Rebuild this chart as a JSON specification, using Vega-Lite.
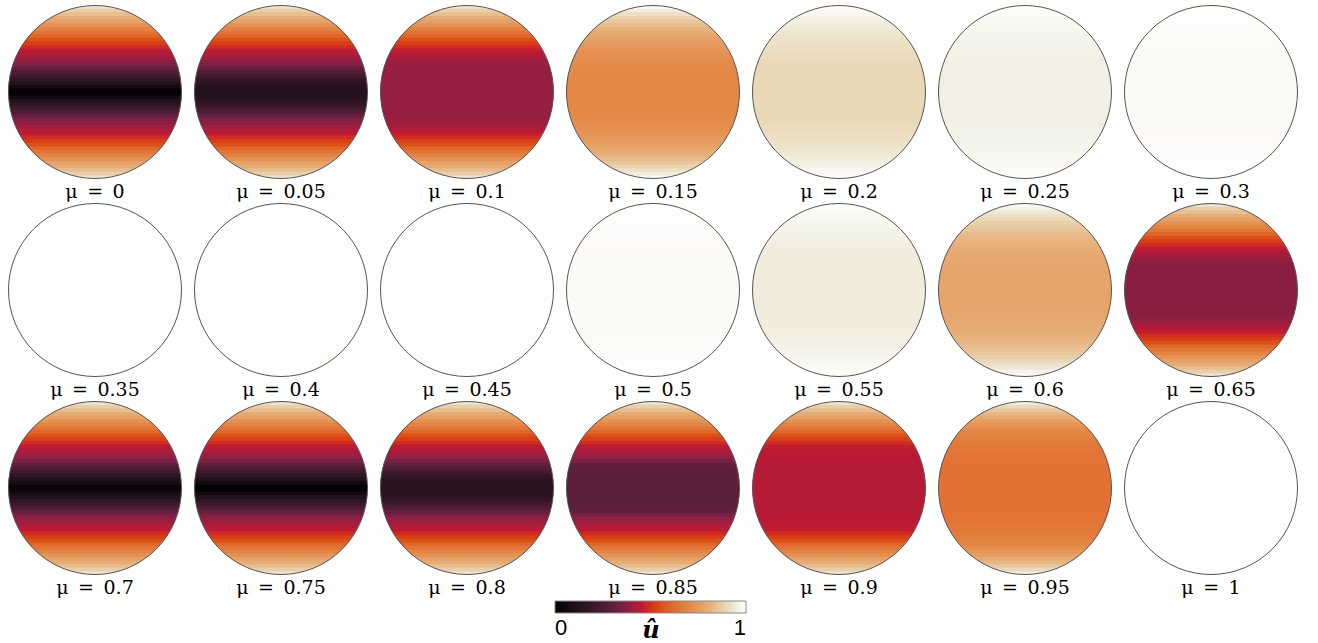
{
  "$schema": "https://vega.github.io/schema/vega-lite/v6.json",
  "padding": {"left": 6, "top": 3, "right": 5, "bottom": 0},
  "background": "white",
  "config": {"view": {"stroke": null}},
  "bounds": "flush",
  "data": {"values": [
{"m":0,"k":1,"u":0.02},{"m":0,"k":2,"u":0.07},{"m":0,"k":3,"u":0.12},{"m":0,"k":4,"u":0.17},{"m":0,"k":5,"u":0.22},{"m":0,"k":6,"u":0.26},{"m":0,"k":7,"u":0.31},{"m":0,"k":8,"u":0.35},{"m":0,"k":9,"u":0.38},{"m":0,"k":10,"u":0.41},{"m":0,"k":11,"u":0.43},{"m":0,"k":12,"u":0.45},{"m":0,"k":13,"u":0.49},{"m":0,"k":14,"u":0.525},{"m":0,"k":15,"u":0.56},{"m":0,"k":16,"u":0.61},{"m":0,"k":17,"u":0.65},{"m":0,"k":18,"u":0.69},{"m":0,"k":19,"u":0.73},{"m":0,"k":20,"u":0.77},{"m":0,"k":21,"u":0.8},{"m":0,"k":22,"u":0.84},{"m":0,"k":23,"u":0.88},{"m":0,"k":24,"u":0.93},
{"m":0.05,"k":1,"u":0.13},{"m":0.05,"k":2,"u":0.14},{"m":0.05,"k":3,"u":0.16},{"m":0.05,"k":4,"u":0.19},{"m":0.05,"k":5,"u":0.23},{"m":0.05,"k":6,"u":0.265},{"m":0.05,"k":7,"u":0.31},{"m":0.05,"k":8,"u":0.35},{"m":0.05,"k":9,"u":0.38},{"m":0.05,"k":10,"u":0.41},{"m":0.05,"k":11,"u":0.43},{"m":0.05,"k":12,"u":0.45},{"m":0.05,"k":13,"u":0.49},{"m":0.05,"k":14,"u":0.525},{"m":0.05,"k":15,"u":0.56},{"m":0.05,"k":16,"u":0.61},{"m":0.05,"k":17,"u":0.65},{"m":0.05,"k":18,"u":0.69},{"m":0.05,"k":19,"u":0.73},{"m":0.05,"k":20,"u":0.77},{"m":0.05,"k":21,"u":0.8},{"m":0.05,"k":22,"u":0.84},{"m":0.05,"k":23,"u":0.88},{"m":0.05,"k":24,"u":0.93},
{"m":0.1,"k":1,"u":0.39},{"m":0.1,"k":2,"u":0.39},{"m":0.1,"k":3,"u":0.39},{"m":0.1,"k":4,"u":0.39},{"m":0.1,"k":5,"u":0.39},{"m":0.1,"k":6,"u":0.39},{"m":0.1,"k":7,"u":0.39},{"m":0.1,"k":8,"u":0.395},{"m":0.1,"k":9,"u":0.4},{"m":0.1,"k":10,"u":0.42},{"m":0.1,"k":11,"u":0.44},{"m":0.1,"k":12,"u":0.46},{"m":0.1,"k":13,"u":0.49},{"m":0.1,"k":14,"u":0.525},{"m":0.1,"k":15,"u":0.56},{"m":0.1,"k":16,"u":0.61},{"m":0.1,"k":17,"u":0.65},{"m":0.1,"k":18,"u":0.69},{"m":0.1,"k":19,"u":0.73},{"m":0.1,"k":20,"u":0.77},{"m":0.1,"k":21,"u":0.8},{"m":0.1,"k":22,"u":0.84},{"m":0.1,"k":23,"u":0.88},{"m":0.1,"k":24,"u":0.93},
{"m":0.15,"k":1,"u":0.7},{"m":0.15,"k":2,"u":0.7},{"m":0.15,"k":3,"u":0.7},{"m":0.15,"k":4,"u":0.7},{"m":0.15,"k":5,"u":0.7},{"m":0.15,"k":6,"u":0.7},{"m":0.15,"k":7,"u":0.706},{"m":0.15,"k":8,"u":0.709},{"m":0.15,"k":9,"u":0.713},{"m":0.15,"k":10,"u":0.719},{"m":0.15,"k":11,"u":0.725},{"m":0.15,"k":12,"u":0.733},{"m":0.15,"k":13,"u":0.742},{"m":0.15,"k":14,"u":0.753},{"m":0.15,"k":15,"u":0.766},{"m":0.15,"k":16,"u":0.781},{"m":0.15,"k":17,"u":0.798},{"m":0.15,"k":18,"u":0.816},{"m":0.15,"k":19,"u":0.837},{"m":0.15,"k":20,"u":0.861},{"m":0.15,"k":21,"u":0.887},{"m":0.15,"k":22,"u":0.916},{"m":0.15,"k":23,"u":0.948},{"m":0.15,"k":24,"u":0.98},
{"m":0.2,"k":1,"u":0.9},{"m":0.2,"k":2,"u":0.9},{"m":0.2,"k":3,"u":0.9},{"m":0.2,"k":4,"u":0.9},{"m":0.2,"k":5,"u":0.9},{"m":0.2,"k":6,"u":0.9},{"m":0.2,"k":7,"u":0.9},{"m":0.2,"k":8,"u":0.9},{"m":0.2,"k":9,"u":0.904},{"m":0.2,"k":10,"u":0.906},{"m":0.2,"k":11,"u":0.908},{"m":0.2,"k":12,"u":0.911},{"m":0.2,"k":13,"u":0.914},{"m":0.2,"k":14,"u":0.918},{"m":0.2,"k":15,"u":0.922},{"m":0.2,"k":16,"u":0.927},{"m":0.2,"k":17,"u":0.933},{"m":0.2,"k":18,"u":0.939},{"m":0.2,"k":19,"u":0.946},{"m":0.2,"k":20,"u":0.954},{"m":0.2,"k":21,"u":0.962},{"m":0.2,"k":22,"u":0.972},{"m":0.2,"k":23,"u":0.983},{"m":0.2,"k":24,"u":0.994},
{"m":0.25,"k":1,"u":0.955},{"m":0.25,"k":2,"u":0.955},{"m":0.25,"k":3,"u":0.955},{"m":0.25,"k":4,"u":0.955},{"m":0.25,"k":5,"u":0.955},{"m":0.25,"k":6,"u":0.955},{"m":0.25,"k":7,"u":0.955},{"m":0.25,"k":8,"u":0.955},{"m":0.25,"k":9,"u":0.955},{"m":0.25,"k":10,"u":0.955},{"m":0.25,"k":11,"u":0.959},{"m":0.25,"k":12,"u":0.96},{"m":0.25,"k":13,"u":0.961},{"m":0.25,"k":14,"u":0.963},{"m":0.25,"k":15,"u":0.965},{"m":0.25,"k":16,"u":0.967},{"m":0.25,"k":17,"u":0.97},{"m":0.25,"k":18,"u":0.972},{"m":0.25,"k":19,"u":0.976},{"m":0.25,"k":20,"u":0.979},{"m":0.25,"k":21,"u":0.983},{"m":0.25,"k":22,"u":0.987},{"m":0.25,"k":23,"u":0.992},{"m":0.25,"k":24,"u":0.997},
{"m":0.3,"k":1,"u":0.985},{"m":0.3,"k":2,"u":0.985},{"m":0.3,"k":3,"u":0.985},{"m":0.3,"k":4,"u":0.985},{"m":0.3,"k":5,"u":0.985},{"m":0.3,"k":6,"u":0.985},{"m":0.3,"k":7,"u":0.985},{"m":0.3,"k":8,"u":0.985},{"m":0.3,"k":9,"u":0.985},{"m":0.3,"k":10,"u":0.985},{"m":0.3,"k":11,"u":0.985},{"m":0.3,"k":12,"u":0.985},{"m":0.3,"k":13,"u":0.987},{"m":0.3,"k":14,"u":0.988},{"m":0.3,"k":15,"u":0.988},{"m":0.3,"k":16,"u":0.989},{"m":0.3,"k":17,"u":0.99},{"m":0.3,"k":18,"u":0.991},{"m":0.3,"k":19,"u":0.992},{"m":0.3,"k":20,"u":0.993},{"m":0.3,"k":21,"u":0.994},{"m":0.3,"k":22,"u":0.996},{"m":0.3,"k":23,"u":0.997},{"m":0.3,"k":24,"u":0.999},
{"m":0.35,"k":1,"u":0.993},{"m":0.35,"k":2,"u":0.993},{"m":0.35,"k":3,"u":0.993},{"m":0.35,"k":4,"u":0.993},{"m":0.35,"k":5,"u":0.993},{"m":0.35,"k":6,"u":0.993},{"m":0.35,"k":7,"u":0.993},{"m":0.35,"k":8,"u":0.993},{"m":0.35,"k":9,"u":0.993},{"m":0.35,"k":10,"u":0.993},{"m":0.35,"k":11,"u":0.993},{"m":0.35,"k":12,"u":0.993},{"m":0.35,"k":13,"u":0.993},{"m":0.35,"k":14,"u":0.993},{"m":0.35,"k":15,"u":0.993},{"m":0.35,"k":16,"u":0.993},{"m":0.35,"k":17,"u":0.994},{"m":0.35,"k":18,"u":0.995},{"m":0.35,"k":19,"u":0.995},{"m":0.35,"k":20,"u":0.996},{"m":0.35,"k":21,"u":0.997},{"m":0.35,"k":22,"u":0.998},{"m":0.35,"k":23,"u":0.999},{"m":0.35,"k":24,"u":1},
{"m":0.4,"k":1,"u":0.993},{"m":0.4,"k":2,"u":0.993},{"m":0.4,"k":3,"u":0.993},{"m":0.4,"k":4,"u":0.993},{"m":0.4,"k":5,"u":0.993},{"m":0.4,"k":6,"u":0.993},{"m":0.4,"k":7,"u":0.993},{"m":0.4,"k":8,"u":0.993},{"m":0.4,"k":9,"u":0.993},{"m":0.4,"k":10,"u":0.993},{"m":0.4,"k":11,"u":0.993},{"m":0.4,"k":12,"u":0.993},{"m":0.4,"k":13,"u":0.993},{"m":0.4,"k":14,"u":0.993},{"m":0.4,"k":15,"u":0.993},{"m":0.4,"k":16,"u":0.993},{"m":0.4,"k":17,"u":0.994},{"m":0.4,"k":18,"u":0.995},{"m":0.4,"k":19,"u":0.995},{"m":0.4,"k":20,"u":0.996},{"m":0.4,"k":21,"u":0.997},{"m":0.4,"k":22,"u":0.998},{"m":0.4,"k":23,"u":0.999},{"m":0.4,"k":24,"u":1},
{"m":0.45,"k":1,"u":0.993},{"m":0.45,"k":2,"u":0.993},{"m":0.45,"k":3,"u":0.993},{"m":0.45,"k":4,"u":0.993},{"m":0.45,"k":5,"u":0.993},{"m":0.45,"k":6,"u":0.993},{"m":0.45,"k":7,"u":0.993},{"m":0.45,"k":8,"u":0.993},{"m":0.45,"k":9,"u":0.993},{"m":0.45,"k":10,"u":0.993},{"m":0.45,"k":11,"u":0.993},{"m":0.45,"k":12,"u":0.993},{"m":0.45,"k":13,"u":0.993},{"m":0.45,"k":14,"u":0.993},{"m":0.45,"k":15,"u":0.993},{"m":0.45,"k":16,"u":0.993},{"m":0.45,"k":17,"u":0.994},{"m":0.45,"k":18,"u":0.995},{"m":0.45,"k":19,"u":0.995},{"m":0.45,"k":20,"u":0.996},{"m":0.45,"k":21,"u":0.997},{"m":0.45,"k":22,"u":0.998},{"m":0.45,"k":23,"u":0.999},{"m":0.45,"k":24,"u":1},
{"m":0.5,"k":1,"u":0.986},{"m":0.5,"k":2,"u":0.986},{"m":0.5,"k":3,"u":0.986},{"m":0.5,"k":4,"u":0.986},{"m":0.5,"k":5,"u":0.986},{"m":0.5,"k":6,"u":0.986},{"m":0.5,"k":7,"u":0.986},{"m":0.5,"k":8,"u":0.986},{"m":0.5,"k":9,"u":0.986},{"m":0.5,"k":10,"u":0.986},{"m":0.5,"k":11,"u":0.986},{"m":0.5,"k":12,"u":0.986},{"m":0.5,"k":13,"u":0.988},{"m":0.5,"k":14,"u":0.988},{"m":0.5,"k":15,"u":0.989},{"m":0.5,"k":16,"u":0.99},{"m":0.5,"k":17,"u":0.99},{"m":0.5,"k":18,"u":0.991},{"m":0.5,"k":19,"u":0.992},{"m":0.5,"k":20,"u":0.993},{"m":0.5,"k":21,"u":0.995},{"m":0.5,"k":22,"u":0.996},{"m":0.5,"k":23,"u":0.998},{"m":0.5,"k":24,"u":1},
{"m":0.55,"k":1,"u":0.945},{"m":0.55,"k":2,"u":0.945},{"m":0.55,"k":3,"u":0.945},{"m":0.55,"k":4,"u":0.945},{"m":0.55,"k":5,"u":0.945},{"m":0.55,"k":6,"u":0.945},{"m":0.55,"k":7,"u":0.945},{"m":0.55,"k":8,"u":0.945},{"m":0.55,"k":9,"u":0.945},{"m":0.55,"k":10,"u":0.945},{"m":0.55,"k":11,"u":0.95},{"m":0.55,"k":12,"u":0.951},{"m":0.55,"k":13,"u":0.953},{"m":0.55,"k":14,"u":0.955},{"m":0.55,"k":15,"u":0.957},{"m":0.55,"k":16,"u":0.96},{"m":0.55,"k":17,"u":0.963},{"m":0.55,"k":18,"u":0.966},{"m":0.55,"k":19,"u":0.97},{"m":0.55,"k":20,"u":0.975},{"m":0.55,"k":21,"u":0.979},{"m":0.55,"k":22,"u":0.985},{"m":0.55,"k":23,"u":0.99},{"m":0.55,"k":24,"u":0.997},
{"m":0.6,"k":1,"u":0.78},{"m":0.6,"k":2,"u":0.78},{"m":0.6,"k":3,"u":0.78},{"m":0.6,"k":4,"u":0.78},{"m":0.6,"k":5,"u":0.78},{"m":0.6,"k":6,"u":0.78},{"m":0.6,"k":7,"u":0.784},{"m":0.6,"k":8,"u":0.787},{"m":0.6,"k":9,"u":0.79},{"m":0.6,"k":10,"u":0.794},{"m":0.6,"k":11,"u":0.798},{"m":0.6,"k":12,"u":0.804},{"m":0.6,"k":13,"u":0.811},{"m":0.6,"k":14,"u":0.819},{"m":0.6,"k":15,"u":0.828},{"m":0.6,"k":16,"u":0.839},{"m":0.6,"k":17,"u":0.852},{"m":0.6,"k":18,"u":0.865},{"m":0.6,"k":19,"u":0.881},{"m":0.6,"k":20,"u":0.898},{"m":0.6,"k":21,"u":0.917},{"m":0.6,"k":22,"u":0.938},{"m":0.6,"k":23,"u":0.962},{"m":0.6,"k":24,"u":0.986},
{"m":0.65,"k":1,"u":0.37},{"m":0.65,"k":2,"u":0.37},{"m":0.65,"k":3,"u":0.37},{"m":0.65,"k":4,"u":0.37},{"m":0.65,"k":5,"u":0.37},{"m":0.65,"k":6,"u":0.37},{"m":0.65,"k":7,"u":0.37},{"m":0.65,"k":8,"u":0.375},{"m":0.65,"k":9,"u":0.39},{"m":0.65,"k":10,"u":0.415},{"m":0.65,"k":11,"u":0.435},{"m":0.65,"k":12,"u":0.455},{"m":0.65,"k":13,"u":0.49},{"m":0.65,"k":14,"u":0.525},{"m":0.65,"k":15,"u":0.56},{"m":0.65,"k":16,"u":0.61},{"m":0.65,"k":17,"u":0.65},{"m":0.65,"k":18,"u":0.69},{"m":0.65,"k":19,"u":0.73},{"m":0.65,"k":20,"u":0.77},{"m":0.65,"k":21,"u":0.8},{"m":0.65,"k":22,"u":0.84},{"m":0.65,"k":23,"u":0.88},{"m":0.65,"k":24,"u":0.93},
{"m":0.7,"k":1,"u":0.04},{"m":0.7,"k":2,"u":0.08},{"m":0.7,"k":3,"u":0.12},{"m":0.7,"k":4,"u":0.17},{"m":0.7,"k":5,"u":0.22},{"m":0.7,"k":6,"u":0.26},{"m":0.7,"k":7,"u":0.31},{"m":0.7,"k":8,"u":0.35},{"m":0.7,"k":9,"u":0.38},{"m":0.7,"k":10,"u":0.41},{"m":0.7,"k":11,"u":0.43},{"m":0.7,"k":12,"u":0.45},{"m":0.7,"k":13,"u":0.49},{"m":0.7,"k":14,"u":0.525},{"m":0.7,"k":15,"u":0.56},{"m":0.7,"k":16,"u":0.61},{"m":0.7,"k":17,"u":0.65},{"m":0.7,"k":18,"u":0.69},{"m":0.7,"k":19,"u":0.73},{"m":0.7,"k":20,"u":0.77},{"m":0.7,"k":21,"u":0.8},{"m":0.7,"k":22,"u":0.84},{"m":0.7,"k":23,"u":0.88},{"m":0.7,"k":24,"u":0.93},
{"m":0.75,"k":1,"u":0.015},{"m":0.75,"k":2,"u":0.07},{"m":0.75,"k":3,"u":0.12},{"m":0.75,"k":4,"u":0.17},{"m":0.75,"k":5,"u":0.22},{"m":0.75,"k":6,"u":0.26},{"m":0.75,"k":7,"u":0.31},{"m":0.75,"k":8,"u":0.35},{"m":0.75,"k":9,"u":0.38},{"m":0.75,"k":10,"u":0.41},{"m":0.75,"k":11,"u":0.43},{"m":0.75,"k":12,"u":0.45},{"m":0.75,"k":13,"u":0.49},{"m":0.75,"k":14,"u":0.525},{"m":0.75,"k":15,"u":0.56},{"m":0.75,"k":16,"u":0.61},{"m":0.75,"k":17,"u":0.65},{"m":0.75,"k":18,"u":0.69},{"m":0.75,"k":19,"u":0.73},{"m":0.75,"k":20,"u":0.77},{"m":0.75,"k":21,"u":0.8},{"m":0.75,"k":22,"u":0.84},{"m":0.75,"k":23,"u":0.88},{"m":0.75,"k":24,"u":0.93},
{"m":0.8,"k":1,"u":0.15},{"m":0.8,"k":2,"u":0.155},{"m":0.8,"k":3,"u":0.165},{"m":0.8,"k":4,"u":0.19},{"m":0.8,"k":5,"u":0.23},{"m":0.8,"k":6,"u":0.265},{"m":0.8,"k":7,"u":0.31},{"m":0.8,"k":8,"u":0.35},{"m":0.8,"k":9,"u":0.38},{"m":0.8,"k":10,"u":0.41},{"m":0.8,"k":11,"u":0.43},{"m":0.8,"k":12,"u":0.45},{"m":0.8,"k":13,"u":0.49},{"m":0.8,"k":14,"u":0.525},{"m":0.8,"k":15,"u":0.56},{"m":0.8,"k":16,"u":0.61},{"m":0.8,"k":17,"u":0.65},{"m":0.8,"k":18,"u":0.69},{"m":0.8,"k":19,"u":0.73},{"m":0.8,"k":20,"u":0.77},{"m":0.8,"k":21,"u":0.8},{"m":0.8,"k":22,"u":0.84},{"m":0.8,"k":23,"u":0.88},{"m":0.8,"k":24,"u":0.93},
{"m":0.85,"k":1,"u":0.3},{"m":0.85,"k":2,"u":0.3},{"m":0.85,"k":3,"u":0.3},{"m":0.85,"k":4,"u":0.3},{"m":0.85,"k":5,"u":0.3},{"m":0.85,"k":6,"u":0.3},{"m":0.85,"k":7,"u":0.315},{"m":0.85,"k":8,"u":0.35},{"m":0.85,"k":9,"u":0.38},{"m":0.85,"k":10,"u":0.41},{"m":0.85,"k":11,"u":0.43},{"m":0.85,"k":12,"u":0.45},{"m":0.85,"k":13,"u":0.49},{"m":0.85,"k":14,"u":0.525},{"m":0.85,"k":15,"u":0.56},{"m":0.85,"k":16,"u":0.61},{"m":0.85,"k":17,"u":0.65},{"m":0.85,"k":18,"u":0.69},{"m":0.85,"k":19,"u":0.73},{"m":0.85,"k":20,"u":0.77},{"m":0.85,"k":21,"u":0.8},{"m":0.85,"k":22,"u":0.84},{"m":0.85,"k":23,"u":0.88},{"m":0.85,"k":24,"u":0.93},
{"m":0.9,"k":1,"u":0.44},{"m":0.9,"k":2,"u":0.44},{"m":0.9,"k":3,"u":0.44},{"m":0.9,"k":4,"u":0.44},{"m":0.9,"k":5,"u":0.44},{"m":0.9,"k":6,"u":0.44},{"m":0.9,"k":7,"u":0.44},{"m":0.9,"k":8,"u":0.44},{"m":0.9,"k":9,"u":0.44},{"m":0.9,"k":10,"u":0.445},{"m":0.9,"k":11,"u":0.45},{"m":0.9,"k":12,"u":0.46},{"m":0.9,"k":13,"u":0.49},{"m":0.9,"k":14,"u":0.525},{"m":0.9,"k":15,"u":0.56},{"m":0.9,"k":16,"u":0.61},{"m":0.9,"k":17,"u":0.65},{"m":0.9,"k":18,"u":0.69},{"m":0.9,"k":19,"u":0.73},{"m":0.9,"k":20,"u":0.77},{"m":0.9,"k":21,"u":0.8},{"m":0.9,"k":22,"u":0.84},{"m":0.9,"k":23,"u":0.88},{"m":0.9,"k":24,"u":0.93},
{"m":0.95,"k":1,"u":0.64},{"m":0.95,"k":2,"u":0.64},{"m":0.95,"k":3,"u":0.64},{"m":0.95,"k":4,"u":0.64},{"m":0.95,"k":5,"u":0.64},{"m":0.95,"k":6,"u":0.64},{"m":0.95,"k":7,"u":0.64},{"m":0.95,"k":8,"u":0.642},{"m":0.95,"k":9,"u":0.645},{"m":0.95,"k":10,"u":0.648},{"m":0.95,"k":11,"u":0.652},{"m":0.95,"k":12,"u":0.657},{"m":0.95,"k":13,"u":0.663},{"m":0.95,"k":14,"u":0.672},{"m":0.95,"k":15,"u":0.683},{"m":0.95,"k":16,"u":0.697},{"m":0.95,"k":17,"u":0.714},{"m":0.95,"k":18,"u":0.735},{"m":0.95,"k":19,"u":0.763},{"m":0.95,"k":20,"u":0.795},{"m":0.95,"k":21,"u":0.828},{"m":0.95,"k":22,"u":0.862},{"m":0.95,"k":23,"u":0.905},{"m":0.95,"k":24,"u":0.95},
{"m":1,"k":1,"u":1},{"m":1,"k":2,"u":1},{"m":1,"k":3,"u":1},{"m":1,"k":4,"u":1},{"m":1,"k":5,"u":1},{"m":1,"k":6,"u":1},{"m":1,"k":7,"u":1},{"m":1,"k":8,"u":1},{"m":1,"k":9,"u":1},{"m":1,"k":10,"u":1},{"m":1,"k":11,"u":1},{"m":1,"k":12,"u":1},{"m":1,"k":13,"u":1},{"m":1,"k":14,"u":1},{"m":1,"k":15,"u":1},{"m":1,"k":16,"u":1},{"m":1,"k":17,"u":1},{"m":1,"k":18,"u":1},{"m":1,"k":19,"u":1},{"m":1,"k":20,"u":1},{"m":1,"k":21,"u":1},{"m":1,"k":22,"u":1},{"m":1,"k":23,"u":1},{"m":1,"k":24,"u":1}
  ]},
  "columns": 7,
  "spacing": {"row": 24, "column": 12},
  "facet": {
    "field": "m", "type": "ordinal", "title": null,
    "header": {"labelOrient": "bottom", "titleOrient": "bottom", "labelExpr": "'μ\u2002=\u2002' + datum.value", "labelFont": "DejaVu Serif", "labelFontSize": 19, "labelColor": "black", "labelPadding": 2}
  },
  "spec": {
    "width": 174,
    "height": 174,
    "resolve": {"scale": {"y": "independent"}},
    "layer": [
      {
        "mark": {"type": "rect"},
        "encoding": {
          "x": {"datum": -1, "type": "quantitative", "scale": {"domain": [-1, 1]}, "axis": null},
          "x2": {"datum": 1},
          "y": {"field": "k", "type": "quantitative", "axis": null, "scale": {"domain": [-23, 25], "nice": false, "zero": false}},
          "y2": {"datum": 25},
          "color": {"field": "u", "type": "quantitative",
            "scale": {"domain": [0,0.1,0.2,0.3,0.35,0.4,0.45,0.5,0.55,0.6,0.7,0.8,0.9,0.96,1], "range": ["#000000","#1c1018","#38182a","#5c1f3c","#7a2044","#9c1e40","#bd1a34","#d6301c","#dd4c12","#e06428","#e48846","#e6ac74","#e9d8b6","#f3f2e8","#ffffff"], "interpolate": "rgb"},
            "legend": {"orient": "none", "legendX": 547, "legendY": 596, "direction": "horizontal", "gradientLength": 191, "gradientThickness": 12, "gradientStrokeColor": "#888888", "gradientStrokeWidth": 1, "values": [0, 1], "format": "~g", "labelFont": "Liberation Sans", "labelFontSize": 22, "labelColor": "black", "labelOffset": 5, "title": "û", "titleOrient": "bottom", "titleAnchor": "middle", "titleFont": "DejaVu Serif", "titleFontStyle": "italic", "titleFontWeight": "bold", "titleFontSize": 24, "titleColor": "black", "titlePadding": -20}
          }
        }
      },
      {
        "mark": {"type": "rect"},
        "encoding": {
          "x": {"datum": -1, "type": "quantitative"},
          "x2": {"datum": 1},
          "y": {"field": "k", "type": "quantitative", "axis": null, "scale": {"domain": [-23, 25], "nice": false, "zero": false, "reverse": true}},
          "y2": {"datum": 25},
          "color": {"field": "u", "type": "quantitative"}
        }
      },
      {
        "transform": [{"filter": "datum.k == 1"}],
        "mark": {"type": "point", "shape": "M -1.02 -1.02 L 1.02 -1.02 L 1.02 1.02 L -1.02 1.02 Z M 0 -1 A 1 1 0 0 0 0 1 A 1 1 0 0 0 0 -1 Z", "filled": true, "fill": "white", "strokeWidth": 0, "opacity": 1, "size": 29929},
        "encoding": {
          "x": {"datum": 0, "type": "quantitative"},
          "y": {"datum": 0, "type": "quantitative", "scale": {"domain": [-1, 1]}, "axis": null}
        }
      },
      {
        "transform": [{"filter": "datum.k == 1"}],
        "mark": {"type": "point", "shape": "circle", "filled": false, "stroke": "#555555", "strokeWidth": 1, "opacity": 1, "size": 29929},
        "encoding": {
          "x": {"datum": 0, "type": "quantitative"},
          "y": {"datum": 0, "type": "quantitative", "scale": {"domain": [-1, 1]}, "axis": null}
        }
      }
    ]
  }
}
